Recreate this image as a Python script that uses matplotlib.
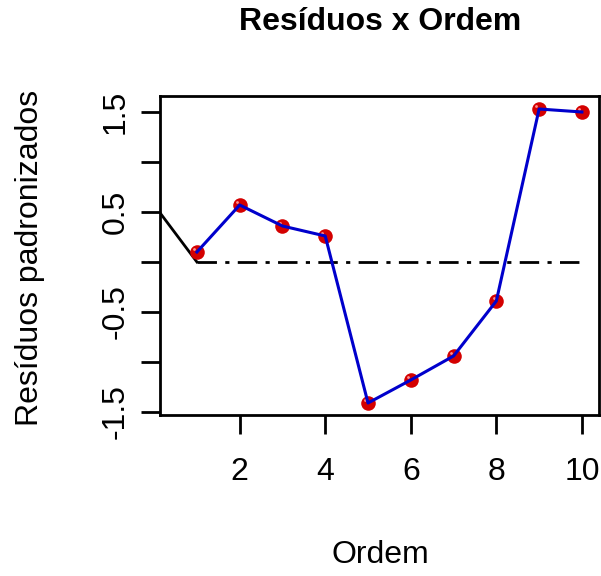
import matplotlib
matplotlib.use("Agg")
import matplotlib.pyplot as plt
import matplotlib.transforms as mtransforms

plt.rcParams['font.family'] = ['Liberation Sans', 'DejaVu Sans']

ordem = [1, 2, 3, 4, 5, 6, 7, 8, 9, 10]
residuos = [0.10, 0.57, 0.36, 0.26, -1.41, -1.18, -0.94, -0.39, 1.53, 1.50]
ref_x = [0, 1]
ref_y = [0.57, 0.0]
zero_x = [1, 10]
zero_y = [0, 0]
xticks = [2, 4, 6, 8, 10]
yticks = [-1.5, -1.0, -0.5, 0.0, 0.5, 1.0, 1.5]
yticklabels = ['-1.5', '', '-0.5', '', '0.5', '', '1.5']

fig = plt.figure(figsize=(6.01, 5.76), dpi=100)
ax = fig.add_axes([160/601, 1-415/576, (599-160)/601, (415-96)/576])

ax.plot(ref_x, ref_y, color='black', lw=2, zorder=2)
ax.plot(zero_x, zero_y, color='black', lw=2, dashes=(7, 3, 1.5, 3), zorder=2)
ax.scatter(ordem, residuos, s=110, color='#d40000', zorder=3, linewidths=0)
off = mtransforms.ScaledTranslation(-2/72, 2/72, fig.dpi_scale_trans)
ax.scatter(ordem, residuos, s=4, color='#ff9090', zorder=4, linewidths=0,
           transform=ax.transData + off)
ax.plot(ordem, residuos, color='#0000cc', lw=2.2, zorder=5)

ax.set_xlim(0.137, 10.40)
ax.set_ylim(-1.53, 1.66)
ax.set_xticks(xticks)
ax.set_yticks(yticks)
ax.set_yticklabels(yticklabels, rotation=90, va='center')
for s in ax.spines.values():
    s.set_linewidth(2)
ax.tick_params(length=14, width=2, labelsize=23, direction='out')
ax.tick_params(axis='x', pad=16)
ax.tick_params(axis='y', pad=7)

fig.text(380/601, 1-22/576, 'Resíduos x Ordem', ha='center', va='center',
         fontsize=23, fontweight='bold')
fig.text(380/601, 1-555/576, 'Ordem', ha='center', va='center', fontsize=23)
fig.text(30/601, 1-258/576, 'Resíduos padronizados', ha='center', va='center',
         fontsize=23, rotation=90)

fig.savefig('out.png', dpi=100)
